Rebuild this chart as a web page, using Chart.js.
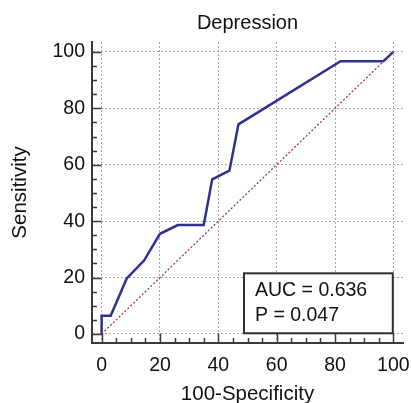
<!DOCTYPE html>
<html>
<head>
<meta charset="utf-8">
<script src="https://cdn.jsdelivr.net/npm/chart.js@4/dist/chart.umd.min.js"></script>
<style>
  html, body { margin: 0; padding: 0; background: #ffffff; }
  #wrap { width: 412px; height: 403px; position: relative; }
</style>
</head>
<body>
<div id="wrap"><canvas id="c"></canvas></div>
<script>
// ROC curve values (100-Specificity, Sensitivity)
const specificityComplement = [0, 0, 3.1, 8.6, 14.6, 20, 26.1, 35, 37.9, 43.8, 46.9, 81.9, 96.6, 100];
const sensitivity =           [0, 6.5, 6.5, 19.7, 26.1, 35.5, 38.6, 38.6, 54.8, 57.9, 74.3, 96.7, 96.7, 100];
// Reference (chance) line
const refX = [0, 100];
const refY = [0, 100];
// Tick labels
const majorTicks = [0, 20, 40, 60, 80, 100];
const minorStep = 5;
// Annotation text
const chartTitle = 'Depression';
const xTitle = '100-Specificity';
const yTitle = 'Sensitivity';
const statsLines = ['AUC = 0.636', 'P = 0.047'];
// Annotation box extent in data units
const boxX = [48.8, 99.8];
const boxY = [0.25, 21.5];

const FONT = "'Liberation Sans', Arial, sans-serif";
const rocPoints = specificityComplement.map((x, i) => ({ x: x, y: sensitivity[i] }));
const refPoints = refX.map((x, i) => ({ x: x, y: refY[i] }));

const decorPlugin = {
  id: 'decor',
  afterDatasetsDraw(chart) {
    const ctx = chart.ctx;
    const xs = chart.scales.x, ys = chart.scales.y;
    const area = chart.chartArea;
    ctx.save();
    // inward tick marks
    ctx.strokeStyle = '#3a3a3a';
    ctx.lineWidth = 1.5;
    for (let v = 0; v <= 100; v += minorStep) {
      const major = majorTicks.includes(v);
      const len = major ? 9.5 : 5;
      const py = Math.round(ys.getPixelForValue(v)) + 0.5;
      ctx.beginPath();
      ctx.moveTo(area.left, py);
      ctx.lineTo(area.left + len, py);
      ctx.stroke();
      const px = Math.round(xs.getPixelForValue(v)) + 0.5;
      ctx.beginPath();
      ctx.moveTo(px, area.bottom);
      ctx.lineTo(px, area.bottom - len);
      ctx.stroke();
    }
    // stats box
    const l = xs.getPixelForValue(boxX[0]);
    const r = xs.getPixelForValue(boxX[1]);
    const t = ys.getPixelForValue(boxY[1]);
    const b = ys.getPixelForValue(boxY[0]);
    ctx.fillStyle = '#ffffff';
    ctx.fillRect(l, t, r - l, b - t);
    ctx.strokeStyle = '#303030';
    ctx.lineWidth = 2;
    ctx.strokeRect(l, t, r - l, b - t);
    ctx.fillStyle = '#111111';
    ctx.font = '19.5px ' + FONT;
    ctx.textAlign = 'left';
    ctx.textBaseline = 'middle';
    statsLines.forEach((s, i) => {
      ctx.fillText(s, l + 11, t + 17 + i * 25);
    });
    ctx.restore();
  }
};

function fitY(scale) {
  scale.width = 92;
  scale.paddingTop = 0; scale.paddingBottom = 0; scale.paddingLeft = 0; scale.paddingRight = 0;
}
function fitX(scale) {
  scale.height = 60;
  scale.paddingTop = 0; scale.paddingBottom = 0; scale.paddingLeft = 0; scale.paddingRight = 0;
}

new Chart(document.getElementById('c'), {
  type: 'scatter',
  data: {
    datasets: [
      {
        data: refPoints,
        showLine: true,
        borderColor: '#9e2a2a',
        borderWidth: 1.2,
        borderDash: [2, 2],
        pointRadius: 0,
        fill: false
      },
      {
        data: rocPoints,
        showLine: true,
        borderColor: '#2e3192',
        borderWidth: 2.5,
        pointRadius: 0,
        fill: false,
        tension: 0
      }
    ]
  },
  options: {
    responsive: true,
    maintainAspectRatio: false,
    animation: false,
    layout: { padding: { left: 0, right: 9, top: 0, bottom: 0 } },
    plugins: {
      legend: { display: false },
      tooltip: { enabled: false },
      title: {
        display: true,
        text: chartTitle,
        fullSize: false,
        color: '#111111',
        font: { family: FONT, size: 20, weight: 'normal', lineHeight: 1.2 },
        padding: { top: 11, bottom: 7 }
      }
    },
    scales: {
      x: {
        type: 'linear',
        min: -3.3,
        max: 103.3,
        afterBuildTicks: (s) => { s.ticks = majorTicks.map(v => ({ value: v })); },
        afterFit: fitX,
        ticks: {
          color: '#111111',
          font: { family: FONT, size: 19.5 },
          padding: 11,
          maxRotation: 0,
          autoSkip: false
        },
        grid: {
          color: '#a8a8a8',
          lineWidth: 1,
          drawTicks: false
        },
        border: { display: true, color: '#3a3a3a', width: 2, dash: [2, 2] },
        title: {
          display: true,
          text: xTitle,
          color: '#111111',
          font: { family: FONT, size: 20.5, lineHeight: 0.8 },
          padding: { top: 0, bottom: 0 }
        }
      },
      y: {
        type: 'linear',
        min: -3.2,
        max: 103.5,
        afterBuildTicks: (s) => { s.ticks = majorTicks.map(v => ({ value: v })); },
        afterFit: fitY,
        ticks: {
          color: '#111111',
          font: { family: FONT, size: 19.5 },
          padding: 7,
          autoSkip: false
        },
        grid: {
          color: '#a8a8a8',
          lineWidth: 1,
          drawTicks: false
        },
        border: { display: true, color: '#3a3a3a', width: 2, dash: [2, 2] },
        title: {
          display: true,
          text: yTitle,
          color: '#111111',
          font: { family: FONT, size: 20.5 },
          padding: { top: 8, bottom: 0 }
        }
      }
    }
  },
  plugins: [decorPlugin]
});
</script>
</body>
</html>
